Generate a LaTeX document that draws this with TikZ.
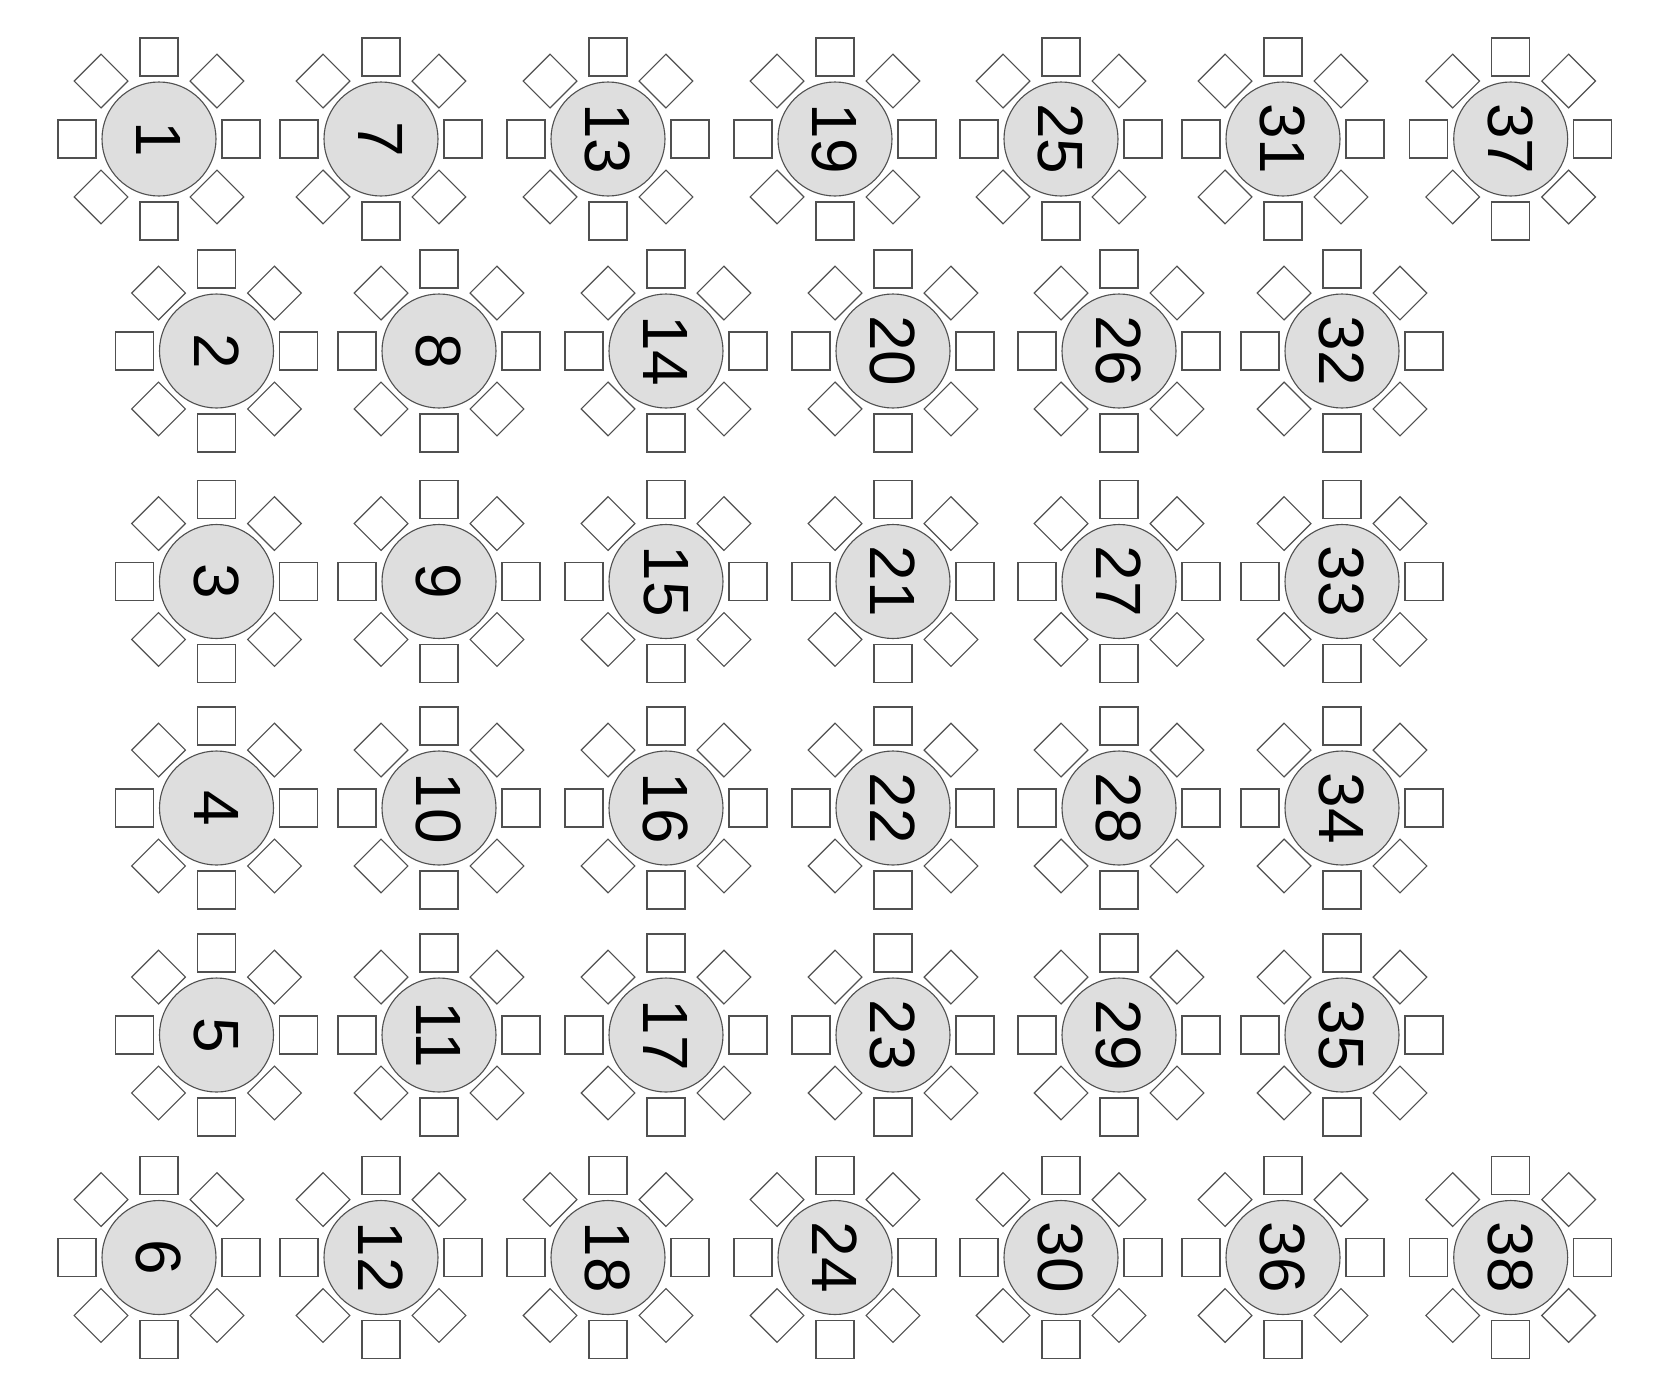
\documentclass[tikz,border=0pt]{standalone}
\usepackage{fontspec}
\setmainfont{Liberation Sans}
\definecolor{tablefill}{HTML}{DEDEDE}
\definecolor{lineg}{HTML}{505050}
\begin{document}
\begin{tikzpicture}[x=1pt,y=-1pt,
  tbl/.style={circle, draw=lineg, line width=1.1pt, fill=tablefill, minimum size=114pt, inner sep=0pt,
    font=\fontsize{64}{64}\selectfont, text=black},
  chair/.style={rectangle, draw=lineg, line width=1.2pt, fill=white, minimum size=38pt, inner sep=0pt},
  lbl/.style={rotate=-90, inner sep=0pt, font=\fontsize{64}{64}\selectfont}]
\useasboundingbox[fill=white] (0,0) rectangle (1655,1393);
% table groups: number / x / y
\foreach \n/\x/\y in {
  1/159/139, 7/381/139, 13/608/139, 19/835/139, 25/1061/139, 31/1283/139, 37/1510.7/139,
  2/216.5/351, 8/439/351, 14/666/351, 20/893/351, 26/1119/351, 32/1342/351,
  3/216.5/581.5, 9/439/581.5, 15/666/581.5, 21/893/581.5, 27/1119/581.5, 33/1342/581.5,
  4/216.5/808, 10/439/808, 16/666/808, 22/893/808, 28/1119/808, 34/1342/808,
  5/216.5/1035, 11/439/1035, 17/666/1035, 23/893/1035, 29/1119/1035, 35/1342/1035,
  6/159/1257.5, 12/381/1257.5, 18/608/1257.5, 24/835/1257.5, 30/1061/1257.5, 36/1283/1257.5, 38/1510.7/1257.5}
{
  \foreach \a in {0,45,...,315}
    \node[chair, rotate=\a] (c\n-\a) at ([shift={(\a:82pt)}]\x,\y) {};
  \node[tbl] (t\n) at (\x,\y) {};
  \node[lbl] (l\n) at (t\n.center) {\n};
}
\end{tikzpicture}
\end{document}
